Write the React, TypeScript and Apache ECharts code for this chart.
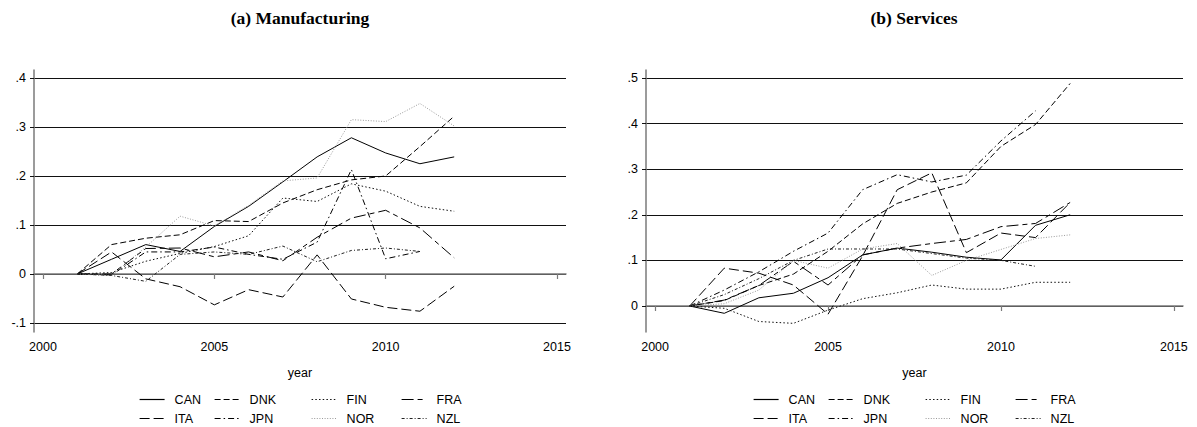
import React, { useEffect, useRef } from "react";
import * as echarts from "echarts";

// Years observed (2001 = base year, indexed to zero)
const YEARS = [2001, 2002, 2003, 2004, 2005, 2006, 2007, 2008, 2009, 2010, 2011, 2012];
const COUNTRIES = ["CAN", "DNK", "FIN", "FRA", "ITA", "JPN", "NOR", "NZL"];

// (a) Manufacturing
const mfgCAN = [0, 0.03, 0.06, 0.046, 0.097, 0.138, 0.188, 0.239, 0.278, 0.247, 0.225, 0.239];
const mfgDNK = [0, 0.06, 0.073, 0.08, 0.109, 0.107, 0.145, 0.172, 0.192, 0.2, 0.26, 0.322];
const mfgFIN = [0, 0.003, 0.026, 0.042, 0.056, 0.078, 0.155, 0.148, 0.184, 0.169, 0.138, 0.128];
const mfgFRA = [0, 0.0, 0.052, 0.053, 0.035, 0.045, 0.027, 0.075, 0.114, 0.13, 0.094, 0.033];
const mfgITA = [0, 0.045, -0.01, -0.026, -0.063, -0.032, -0.047, 0.039, -0.051, -0.068, -0.076, -0.025];
const mfgJPN = [0, -0.002, 0.045, 0.045, 0.055, 0.04, 0.03, 0.065, 0.213, 0.031, 0.046];
const mfgNOR = [0, -0.003, 0.055, 0.118, 0.098, 0.14, 0.19, 0.196, 0.315, 0.311, 0.348, 0.302];
const mfgNZL = [0, -0.003, -0.015, 0.04, 0.045, 0.04, 0.057, 0.025, 0.048, 0.053, 0.046];

// (b) Services
const srvCAN = [0, -0.016, 0.018, 0.028, 0.062, 0.112, 0.127, 0.118, 0.107, 0.101, 0.177, 0.2];
const srvDNK = [0, 0.012, 0.045, 0.07, 0.12, 0.18, 0.225, 0.25, 0.27, 0.35, 0.398, 0.488];
const srvFIN = [0, -0.005, -0.034, -0.038, -0.009, 0.016, 0.029, 0.046, 0.037, 0.037, 0.052, 0.052];
const srvFRA = [0, 0.013, 0.045, 0.098, 0.046, 0.112, 0.127, 0.137, 0.146, 0.174, 0.181, 0.227];
const srvITA = [0, 0.083, 0.072, 0.046, -0.018, 0.11, 0.255, 0.292, 0.117, 0.16, 0.15, 0.227];
const srvJPN = [0, 0.035, 0.075, 0.12, 0.16, 0.255, 0.288, 0.272, 0.287, 0.362, 0.428];
const srvNOR = [0, 0.005, 0.035, 0.1, 0.083, 0.125, 0.137, 0.067, 0.1, 0.124, 0.148, 0.156];
const srvNZL = [0, 0.025, 0.06, 0.1, 0.125, 0.125, 0.125, 0.115, 0.105, 0.1, 0.087];

// Axis ticks
const X_TICKS = [2000, 2005, 2010, 2015];
const Y_TICKS_MFG = [-0.1, 0, 0.1, 0.2, 0.3, 0.4];
const Y_TICKS_SRV = [0, 0.1, 0.2, 0.3, 0.4, 0.5];

const MFG = [mfgCAN, mfgDNK, mfgFIN, mfgFRA, mfgITA, mfgJPN, mfgNOR, mfgNZL];
const SRV = [srvCAN, srvDNK, srvFIN, srvFRA, srvITA, srvJPN, srvNOR, srvNZL];

// Monochrome line patterns per country
const STYLES: Record<string, { type: any; color: string }> = {
  CAN: { type: "solid", color: "#000" },
  DNK: { type: [6, 3], color: "#000" },
  FIN: { type: [1.5, 2.2], color: "#111" },
  FRA: { type: [12, 4, 5, 4], color: "#000" },
  ITA: { type: [10, 4], color: "#000" },
  JPN: { type: [6, 3, 1.5, 3], color: "#000" },
  NOR: { type: [1, 1.6], color: "#9a9a9a" },
  NZL: { type: [3, 2, 1, 2], color: "#222" },
};

const FONT = "'Liberation Sans', Arial, sans-serif";
const SERIF = "'Liberation Serif', 'Times New Roman', serif";

const fmtY = (v: number) => {
  if (Math.abs(v) < 1e-9) return "0";
  const s = Math.abs(v).toFixed(1).replace(/^0/, "");
  return (v < 0 ? "-" : "") + s;
};

const PANELS = [
  { left: 34, right: 1197 - 566, center: 300, yMin: -0.1184, yMax: 0.4163, yTicks: Y_TICKS_MFG, data: MFG, title: "(a) Manufacturing" },
  { left: 646, right: 1197 - 1183, center: 914, yMin: -0.057, yMax: 0.5175, yTicks: Y_TICKS_SRV, data: SRV, title: "(b) Services" },
];

const LEGEND_COLS = [
  { names: ["CAN", "ITA"], dx: -161 },
  { names: ["DNK", "JPN"], dx: -86 },
  { names: ["FIN", "NOR"], dx: 11 },
  { names: ["FRA", "NZL"], dx: 101 },
];

export default function App() {
  const ref = useRef<HTMLDivElement>(null);

  useEffect(() => {
    if (!ref.current) return;
    const chart = echarts.init(ref.current, undefined, { renderer: "svg" });

    const grid = PANELS.map((p) => ({ left: p.left, right: p.right, top: 70, bottom: 95 }));

    const xAxis = PANELS.map((p, i) => ({
      type: "value",
      gridIndex: i,
      min: 1999.737,
      max: 2015.263,
      name: "year",
      nameLocation: "middle",
      nameGap: 34,
      nameTextStyle: { fontFamily: FONT, fontSize: 12.5, color: "#000" },
      axisLine: { show: true, lineStyle: { color: "#7a7a7a", width: 1.5 } },
      axisTick: { show: true, length: 5, inside: false, lineStyle: { color: "#7a7a7a", width: 1.2 }, customValues: X_TICKS },
      axisLabel: { show: true, margin: 8, fontFamily: FONT, fontSize: 12.5, color: "#000", customValues: X_TICKS, formatter: (v: number) => String(v) },
      splitLine: { show: false },
    }));

    const yAxis = PANELS.map((p, i) => ({
      type: "value",
      gridIndex: i,
      min: p.yMin,
      max: p.yMax,
      axisLine: { show: true, onZero: false, lineStyle: { color: "#7a7a7a", width: 1.5 } },
      axisTick: { show: true, length: 4, lineStyle: { color: "#111", width: 1 }, customValues: p.yTicks },
      axisLabel: { show: true, margin: 8, fontFamily: FONT, fontSize: 12.5, color: "#000", customValues: p.yTicks, formatter: fmtY },
      splitLine: { show: true, lineStyle: { color: "#111", width: 1.2 } },
    }));

    const series: any[] = [];
    PANELS.forEach((p, pi) => {
      COUNTRIES.forEach((c, ci) => {
        const vals = p.data[ci];
        series.push({
          type: "line",
          name: c,
          xAxisIndex: pi,
          yAxisIndex: pi,
          data: vals.map((v, k) => [YEARS[k], v]),
          symbol: "none",
          showSymbol: false,
          silent: true,
          lineStyle: { width: 1, type: STYLES[c].type, color: STYLES[c].color },
          itemStyle: { color: STYLES[c].color },
        });
      });
    });

    const legend: any[] = [];
    PANELS.forEach((p) => {
      LEGEND_COLS.forEach((col) => {
        legend.push({
          data: col.names,
          orient: "vertical",
          left: p.center + col.dx,
          top: 393,
          itemWidth: 25,
          itemHeight: 14,
          itemGap: 6,
          padding: 0,
          selectedMode: false,
          // keep only the line sample, hide the marker drawn on it
          itemStyle: { color: "rgba(0,0,0,0)", borderWidth: 0, opacity: 0 },
          lineStyle: { width: 1.2 },
          textStyle: { fontFamily: FONT, fontSize: 12.5, color: "#000", padding: [0, 0, 0, 5] },
        });
      });
    });

    const graphic = PANELS.map((p) => ({
      type: "text",
      x: p.center,
      y: 18,
      silent: true,
      style: {
        text: p.title,
        font: `bold 17.5px ${SERIF}`,
        fill: "#000",
        align: "center",
        verticalAlign: "middle",
      },
    }));

    chart.setOption({
      animation: false,
      backgroundColor: "#fff",
      grid,
      xAxis,
      yAxis,
      series,
      legend,
      graphic,
    });

    return () => chart.dispose();
  }, []);

  return (
    <div
      ref={ref}
      style={{ position: "fixed", left: 0, top: 0, width: 1197, height: 427, background: "#fff" }}
    />
  );
}
